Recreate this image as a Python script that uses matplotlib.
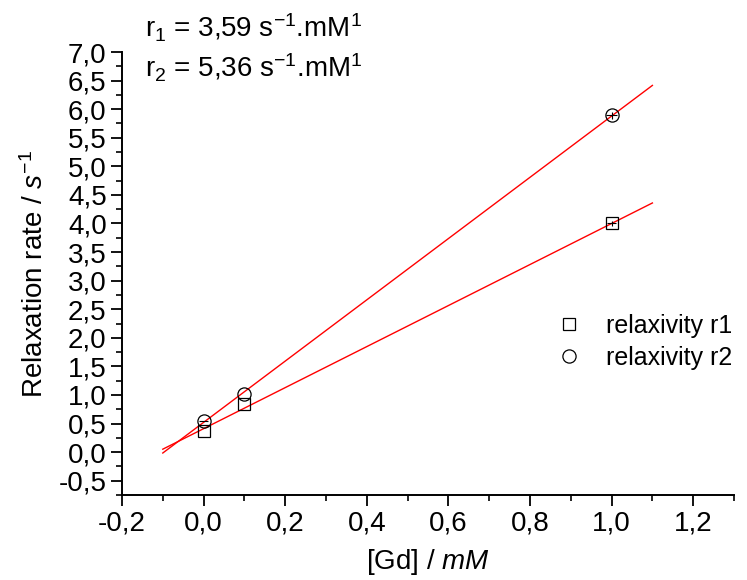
import numpy as np
import matplotlib
matplotlib.use("Agg")
import matplotlib.pyplot as plt
from matplotlib.ticker import MultipleLocator, FuncFormatter

plt.rcParams['font.family'] = ['Liberation Sans', 'DejaVu Sans']
plt.rcParams['mathtext.fontset'] = 'custom'
plt.rcParams['mathtext.rm'] = 'Liberation Sans'
plt.rcParams['mathtext.it'] = 'Liberation Sans:italic'

# Measured relaxation rates
conc = [0.0, 0.1, 1.0]                # [Gd] / mM
r1_rates = [0.37, 0.85, 4.00]         # 1/T1, s^-1
r2_rates = [0.55, 1.01, 5.89]         # 1/T2, s^-1

# Linear fits: slope (relaxivity) and intercept
r1_slope, r1_icpt = 3.59, 0.41
r2_slope, r2_icpt = 5.36, 0.52
fit_range = [-0.1, 1.1]

fig = plt.figure(figsize=(7.47, 5.80), dpi=100)
ax = fig.add_axes([0.1633, 0.1466, 0.8193, 0.7637])

xf = np.array(fit_range)
ax.plot(xf, r1_slope * xf + r1_icpt, color='red', lw=1.0, zorder=2)
ax.plot(xf, r2_slope * xf + r2_icpt, color='red', lw=1.0, zorder=2)

ax.errorbar(conc, r1_rates, yerr=[0, 0, 0.05], xerr=[0, 0, 0.012], fmt='none',
            ecolor='black', elinewidth=0.8, capsize=0, zorder=3)
ax.errorbar(conc, r2_rates, yerr=[0, 0, 0.06], xerr=[0.012, 0, 0.014], fmt='none',
            ecolor='black', elinewidth=0.8, capsize=0, zorder=3)
ax.plot(conc, r1_rates, linestyle='none', marker='s', ms=8, mfc='none', mec='black',
        mew=0.9, label='relaxivity r1', zorder=4)
ax.plot(conc, r2_rates, linestyle='none', marker='o', ms=9.5, mfc='none', mec='black',
        mew=0.9, label='relaxivity r2', zorder=4)

ax.set_xlim(-0.2, 1.3)
ax.set_ylim(-0.75, 7.0)

ax.spines['top'].set_visible(False)
ax.spines['right'].set_visible(False)
for s in ('left', 'bottom'):
    ax.spines[s].set_linewidth(1.4)

ax.xaxis.set_major_locator(MultipleLocator(0.2))
ax.xaxis.set_minor_locator(MultipleLocator(0.1))
ax.yaxis.set_major_locator(MultipleLocator(0.5))
ax.yaxis.set_minor_locator(MultipleLocator(0.25))

comma = FuncFormatter(lambda v, p: f"{v:.1f}".replace('.', ',').replace('-0,0', '0,0'))
ax.xaxis.set_major_formatter(comma)
ax.yaxis.set_major_formatter(comma)

ax.tick_params(which='major', direction='out', length=8, width=1.3, labelsize=20, pad=3)
ax.tick_params(which='minor', direction='out', length=4.5, width=1.2)

ax.set_xlabel('[Gd] / $\\mathit{mM}$', fontsize=20, labelpad=8)
ax.set_ylabel('Relaxation rate / $\\mathit{s}^{-1}$', fontsize=20, labelpad=7)

fig.text(0.194, 0.935, 'r$_1$ = 3,59 s$^{-1}$.mM$^{1}$', fontsize=20, ha='left', va='baseline')
fig.text(0.194, 0.866, 'r$_2$ = 5,36 s$^{-1}$.mM$^{1}$', fontsize=20, ha='left', va='baseline')

ax.legend(loc='upper left', bbox_to_anchor=(0.728, 0.48), bbox_transform=fig.transFigure,
          frameon=False, fontsize=18, handlelength=1.0, handletextpad=1.0,
          labelspacing=0.3, borderpad=0)

fig.savefig('out.png', dpi=100)
